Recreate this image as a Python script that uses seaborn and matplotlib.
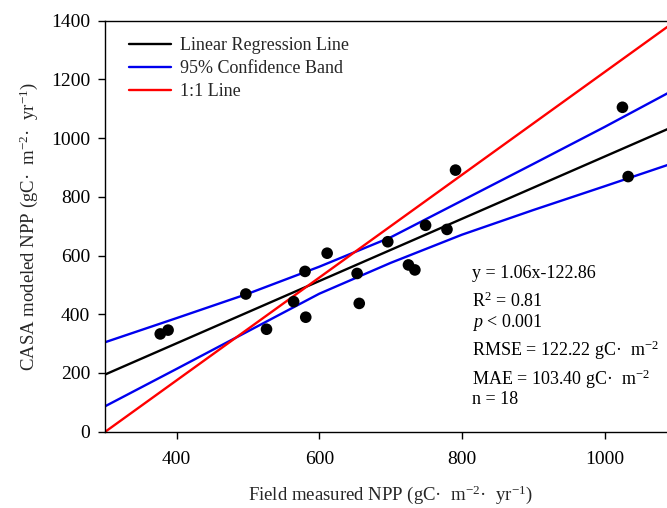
import numpy as np
import pandas as pd
import matplotlib
matplotlib.use("Agg")
import matplotlib.pyplot as plt
import seaborn as sns

# ---- data ----
field_npp = [377, 388, 497, 526, 564, 580, 581, 611, 653, 656, 696, 725, 734, 749, 779, 791, 1025, 1033]
casa_npp = [333, 346, 469, 349, 443, 546, 390, 608, 539, 437, 647, 568, 551, 703, 689, 891, 1105, 869]

reg_slope = 1.06
reg_intercept = -122.86
reg_x = [300, 1100]

band_x = [300, 400, 500, 600, 700, 800, 900, 1000, 1100]
band_upper = [305, 387, 470, 562, 662, 787, 912, 1038, 1168]
band_lower = [87, 214, 342, 470, 575, 671, 755, 836, 918]

one_x = [300, 1100]
one_y = [0, 1400]

x_ticks = [400, 600, 800, 1000]
y_ticks = [0, 200, 400, 600, 800, 1000, 1200, 1400]

stats_lines = ["y = 1.06x-122.86",
               "R$^2$ = 0.81",
               "$p$ < 0.001",
               "RMSE = 122.22 gC·  m$^{-2}$",
               "MAE = 103.40 gC·  m$^{-2}$",
               "n = 18"]
stats_y = [0.374, 0.304, 0.2555, 0.184, 0.1136, 0.0674]

# ---- style ----
sns.set_style("ticks")
plt.rcParams["font.family"] = ["Liberation Serif", "DejaVu Serif"]
plt.rcParams["mathtext.fontset"] = "custom"
plt.rcParams["mathtext.rm"] = "Liberation Serif"
plt.rcParams["mathtext.it"] = "Liberation Serif:italic"
plt.rcParams["font.size"] = 12

fig = plt.figure(figsize=(6.67, 5.08), dpi=100)
ax = fig.add_axes([0.1579, 0.1502, 0.8555, 0.8091])

reg_y = [reg_slope * v + reg_intercept for v in reg_x]
df_reg = pd.DataFrame({"x": reg_x, "y": reg_y})
df_up = pd.DataFrame({"x": band_x, "y": band_upper})
df_lo = pd.DataFrame({"x": band_x, "y": band_lower})
df_one = pd.DataFrame({"x": one_x, "y": one_y})
df_pts = pd.DataFrame({"x": field_npp, "y": casa_npp})

sns.lineplot(data=df_reg, x="x", y="y", ax=ax, color="black", lw=1.7,
             label="Linear Regression Line")
sns.lineplot(data=df_up, x="x", y="y", ax=ax, color="#0000ee", lw=1.7,
             label="95% Confidence Band")
sns.lineplot(data=df_lo, x="x", y="y", ax=ax, color="#0000ee", lw=1.7)
sns.lineplot(data=df_one, x="x", y="y", ax=ax, color="#ff0000", lw=1.7,
             label="1:1 Line")
sns.scatterplot(data=df_pts, x="x", y="y", ax=ax, color="black", s=70,
                edgecolor="none", zorder=5)

ax.set_xlim(300, 1100)
ax.set_ylim(0, 1400)
ax.set_xticks(x_ticks)
ax.set_yticks(y_ticks)
ax.tick_params(axis="both", direction="out", length=5, width=1, labelsize=14,
               colors="black")
ax.tick_params(axis="x", pad=9)
ax.tick_params(axis="y", pad=6)
for s in ["left", "bottom", "top"]:
    ax.spines[s].set_color("black")
    ax.spines[s].set_linewidth(1)
ax.spines["right"].set_visible(False)

ax.set_xlabel("Field measured NPP (gC·  m$^{-2}$·  yr$^{-1}$)", fontsize=13.5, labelpad=11)
ax.set_ylabel("CASA modeled NPP (gC·  m$^{-2}$·  yr$^{-1}$)", fontsize=13.5, labelpad=8)

leg = ax.legend(loc="upper left", frameon=False, fontsize=13, handlelength=2.3,
                handletextpad=0.5, labelspacing=0.33, borderaxespad=0.3,
                bbox_to_anchor=(0.02, 0.99))

for txt, yy in zip(stats_lines, stats_y):
    ax.text(0.642, yy, txt, transform=ax.transAxes, fontsize=13, va="baseline",
            ha="left", color="black")

fig.savefig("out.png", dpi=100)
